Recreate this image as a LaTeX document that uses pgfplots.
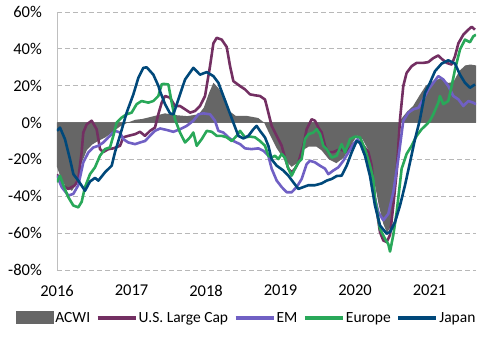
\documentclass[border=0pt]{standalone}
\usepackage{pgfplots}
\pgfplotsset{compat=1.18}
\usepackage{fontspec}
\setmainfont{Carlito}
\definecolor{acwi}{RGB}{102,102,102}
\definecolor{uslc}{RGB}{115,47,98}
\definecolor{em}{RGB}{112,96,196}
\definecolor{eur}{RGB}{41,168,89}
\definecolor{jpn}{RGB}{0,72,122}
\begin{document}
\begin{tikzpicture}
\begin{axis}[
  at={(0,0)}, anchor=south west,
  scale only axis, width=419pt, height=258pt,
  xmin=2016, xmax=2021.624, ymin=-80, ymax=60,
  axis lines*=left,
  x axis line style={draw=none},
  y axis line style={draw=black!25, line width=0.9pt},
  xtick={2016,2017,2018,2019,2020,2021},
  xticklabels={2016,2017,2018,2019,2020,2021},
  ytick={-80,-60,-40,-20,0,20,40,60},
  yticklabels={-80\%,-60\%,-40\%,-20\%,0\%,20\%,40\%,60\%},
  major tick length=0pt,
  tick label style={font=\fontsize{16.5}{18}\selectfont},
  xticklabel style={anchor=north, inner sep=0pt, yshift=-15pt},
  yticklabel style={anchor=east, inner sep=0pt, xshift=-15pt},
  ymajorgrids,
  major grid style={draw=black!28, line width=0.9pt, dash pattern=on 5pt off 3pt},
  extra y ticks={0},
  extra y tick labels={},
  extra y tick style={grid=major, major grid style={solid, draw=black!55, line width=1.2pt}},
  legend style={at={(0.452,-0.186)}, anchor=center, draw=none, fill=none,
    font=\fontsize{15.5}{17}\selectfont, nodes={inner sep=1.2pt},
    /tikz/every even column/.append style={column sep=4.5pt}},
  legend columns=-1,
  legend image code/.code={\draw[#1, line cap=butt, line width=3.6pt] (0pt,0pt) -- (38pt,0pt);},
  every axis plot/.append style={line join=round},
]
\addplot[fill=acwi, draw=none,
  legend image code/.code={\fill[acwi] (0pt,-6.5pt) rectangle (38pt,6.5pt);}]
  coordinates {(2016.0,-24) (2016.05,-30) (2016.12,-35) (2016.2,-37) (2016.27,-33) (2016.33,-22) (2016.4,-15) (2016.47,-12) (2016.55,-10) (2016.65,-8) (2016.75,-5) (2016.85,-2) (2016.95,0) (2017.05,1.5) (2017.15,2) (2017.3,3.5) (2017.45,5) (2017.6,4) (2017.75,3.5) (2017.9,4.5) (2017.97,8) (2018.04,16) (2018.1,21.6) (2018.16,19) (2018.22,16) (2018.27,12) (2018.32,6) (2018.4,3.6) (2018.55,3.6) (2018.7,2.5) (2018.78,0) (2018.85,-6) (2018.95,-14) (2019.05,-20) (2019.15,-24) (2019.22,-22) (2019.3,-15) (2019.38,-13) (2019.48,-13) (2019.55,-15) (2019.65,-20) (2019.75,-22) (2019.85,-19) (2019.95,-12) (2020.03,-7) (2020.1,-9) (2020.18,-15) (2020.25,-30) (2020.32,-45) (2020.38,-55) (2020.43,-60) (2020.48,-56) (2020.53,-40) (2020.58,-18) (2020.62,2) (2020.7,6) (2020.78,9) (2020.87,15) (2020.95,20) (2021.05,22.5) (2021.15,24) (2021.25,21.5) (2021.32,22) (2021.4,28) (2021.48,31) (2021.55,31.5) (2021.624,31)} \closedcycle;
\addlegendentry{ACWI}
\addplot[uslc, line width=2.6pt] coordinates {(2016.0,-28) (2016.063,-34) (2016.152,-36) (2016.242,-34) (2016.286,-30.6) (2016.331,-16) (2016.353,-5.4) (2016.398,-1) (2016.465,1) (2016.532,-3.6) (2016.555,-9) (2016.577,-14.4) (2016.622,-16) (2016.689,-14.4) (2016.756,-14) (2016.846,-12.6) (2016.89,-8) (2016.957,-7.2) (2017.047,-6.3) (2017.114,-5) (2017.181,-7.2) (2017.248,-4.5) (2017.315,-2.7) (2017.36,4.5) (2017.405,10.8) (2017.45,14.4) (2017.517,13.5) (2017.584,9) (2017.651,9) (2017.719,7.2) (2017.786,5.4) (2017.853,6.3) (2017.92,9) (2017.987,14.4) (2018.054,30.6) (2018.099,43) (2018.144,46) (2018.211,45) (2018.278,41) (2018.323,30.6) (2018.367,22.5) (2018.457,19.8) (2018.524,18) (2018.591,15.3) (2018.658,14.8) (2018.725,14.4) (2018.792,12.5) (2018.837,5.4) (2018.881,-1.8) (2018.949,-7.2) (2019.016,-12.6) (2019.06,-19) (2019.105,-25) (2019.15,-27) (2019.195,-25) (2019.24,-21.6) (2019.306,-12.6) (2019.351,-3.6) (2019.418,1.8) (2019.463,1) (2019.508,-2.7) (2019.553,-5.4) (2019.597,-12.6) (2019.642,-16) (2019.709,-16) (2019.799,-14.4) (2019.888,-16) (2019.978,-11.7) (2020.045,-10) (2020.112,-12.6) (2020.179,-16) (2020.224,-23.4) (2020.268,-41) (2020.335,-59.4) (2020.38,-64) (2020.425,-64.8) (2020.47,-61) (2020.514,-45) (2020.559,-27) (2020.604,1.8) (2020.648,19.8) (2020.693,27) (2020.76,30.6) (2020.827,32.4) (2020.917,32.4) (2020.984,32.8) (2021.051,35) (2021.118,36.4) (2021.163,34.6) (2021.23,32.4) (2021.297,31.5) (2021.342,36) (2021.387,43) (2021.454,47.7) (2021.521,50.4) (2021.566,52) (2021.61,50.4)};
\addlegendentry{U.S. Large Cap}
\addplot[em, line width=2.6pt] coordinates {(2016.0,-28.8) (2016.063,-35) (2016.152,-39.6) (2016.219,-38.7) (2016.286,-34) (2016.353,-21.6) (2016.421,-16.2) (2016.488,-13.5) (2016.555,-12.6) (2016.622,-10.8) (2016.689,-8) (2016.779,-4.5) (2016.846,-5.4) (2016.89,-9) (2016.957,-10.8) (2017.047,-11.7) (2017.114,-10.8) (2017.181,-10) (2017.248,-7.2) (2017.315,-4.5) (2017.383,-3.2) (2017.472,-4) (2017.562,-5) (2017.651,-3.6) (2017.741,-1.8) (2017.83,1) (2017.898,4.5) (2017.965,5) (2018.054,4.5) (2018.121,1) (2018.166,-4.5) (2018.233,-5.4) (2018.3,-8) (2018.367,-10) (2018.457,-11.7) (2018.524,-14) (2018.613,-14.4) (2018.703,-14) (2018.77,-15.3) (2018.837,-18) (2018.881,-25) (2018.949,-31.5) (2019.016,-35) (2019.083,-37.8) (2019.15,-37.8) (2019.217,-35) (2019.284,-30.6) (2019.351,-22.5) (2019.396,-20.7) (2019.463,-21.6) (2019.53,-23.4) (2019.597,-25) (2019.642,-28) (2019.709,-26) (2019.776,-24.3) (2019.844,-20.7) (2019.911,-16.2) (2019.978,-11.7) (2020.036,-9) (2020.09,-12.6) (2020.157,-19.8) (2020.224,-28.8) (2020.246,-37.8) (2020.313,-48.6) (2020.38,-53) (2020.447,-49.5) (2020.514,-37.8) (2020.581,-19.8) (2020.648,1) (2020.716,5.4) (2020.783,7.2) (2020.85,8) (2020.917,12.6) (2020.984,18) (2021.051,21.6) (2021.118,25.2) (2021.185,23.4) (2021.252,19.8) (2021.32,14.4) (2021.387,12.6) (2021.454,9) (2021.521,11.7) (2021.588,10.8) (2021.624,9.9)};
\addlegendentry{EM}
\addplot[eur, line width=2.6pt] coordinates {(2016.0,-32.4) (2016.04,-28.8) (2016.085,-34) (2016.152,-40.5) (2016.219,-45) (2016.286,-46) (2016.331,-43) (2016.376,-35) (2016.443,-28) (2016.51,-24.3) (2016.577,-18) (2016.644,-14.4) (2016.711,-13.5) (2016.756,-7.2) (2016.801,0) (2016.868,2.7) (2016.935,4.5) (2017.002,5.4) (2017.069,10) (2017.136,11.7) (2017.226,10.8) (2017.293,11.7) (2017.36,14.4) (2017.405,20.7) (2017.428,21) (2017.495,20.7) (2017.54,10.8) (2017.584,1.8) (2017.651,-5.4) (2017.719,-10.8) (2017.786,-8) (2017.83,-5.4) (2017.875,-12.6) (2017.942,-9) (2018.01,-4.5) (2018.077,-5) (2018.144,-7.2) (2018.211,-7.2) (2018.278,-8) (2018.345,-10) (2018.412,-7.2) (2018.457,-4.5) (2018.524,-8) (2018.591,-7.6) (2018.658,-8) (2018.725,-10) (2018.792,-12.6) (2018.837,-18) (2018.881,-19) (2018.926,-18) (2018.971,-19.8) (2019.016,-17) (2019.06,-19) (2019.105,-25) (2019.15,-28.8) (2019.195,-25) (2019.24,-21.6) (2019.284,-19.8) (2019.329,-9) (2019.374,-6.3) (2019.441,-5.4) (2019.486,-3.6) (2019.53,-6.3) (2019.575,-12.6) (2019.62,-14.4) (2019.687,-19) (2019.754,-18) (2019.821,-11.7) (2019.866,-16.2) (2019.933,-9) (2020.0,-7.6) (2020.067,-8) (2020.134,-14.4) (2020.201,-23.4) (2020.246,-30.6) (2020.268,-41.4) (2020.335,-57.6) (2020.402,-63) (2020.447,-66) (2020.47,-70) (2020.514,-61) (2020.559,-48.6) (2020.626,-25) (2020.693,-17) (2020.76,-12.6) (2020.827,-7.2) (2020.894,-3.6) (2020.962,-1) (2021.006,1) (2021.051,4.5) (2021.118,10.8) (2021.14,14.4) (2021.185,10) (2021.252,11.7) (2021.297,19.8) (2021.342,28.8) (2021.409,39.6) (2021.476,45) (2021.543,43.6) (2021.588,46.8) (2021.624,47.7)};
\addlegendentry{Europe}
\addplot[jpn, line width=2.6pt] coordinates {(2016.0,-4.5) (2016.04,-2.7) (2016.107,-9) (2016.175,-20) (2016.22,-28) (2016.286,-31.5) (2016.376,-37) (2016.443,-32) (2016.51,-30) (2016.555,-31.5) (2016.644,-27) (2016.734,-23.4) (2016.779,-16) (2016.846,-7) (2016.935,5.4) (2017.025,15.3) (2017.092,24.3) (2017.159,29.7) (2017.204,30) (2017.293,26) (2017.36,20) (2017.383,17) (2017.45,10) (2017.517,5) (2017.562,4.5) (2017.629,12.6) (2017.719,23.4) (2017.83,29.7) (2017.92,26) (2018.01,27.4) (2018.099,25.2) (2018.166,21.6) (2018.233,14.4) (2018.3,7.2) (2018.367,0) (2018.434,-7.2) (2018.502,-8.6) (2018.569,-7.2) (2018.636,-3.6) (2018.68,-1.8) (2018.725,-4.5) (2018.792,-8.1) (2018.837,-12.6) (2018.881,-20) (2018.949,-23.4) (2019.038,-26) (2019.105,-28.8) (2019.172,-32.4) (2019.24,-36) (2019.306,-35) (2019.374,-34) (2019.463,-34) (2019.553,-33) (2019.62,-31.5) (2019.687,-30.6) (2019.754,-29) (2019.821,-28.8) (2019.888,-23.4) (2019.955,-16.2) (2020.022,-10) (2020.067,-11) (2020.134,-18) (2020.201,-29) (2020.268,-45) (2020.335,-55.8) (2020.425,-60.3) (2020.47,-59.4) (2020.537,-54) (2020.604,-45) (2020.671,-34) (2020.738,-21.6) (2020.805,-9) (2020.872,1.8) (2020.939,16.2) (2021.006,21.6) (2021.074,27.9) (2021.163,32) (2021.252,33.8) (2021.342,32) (2021.409,26) (2021.476,21.6) (2021.543,18.9) (2021.61,20.7)};
\addlegendentry{Japan}
\end{axis}
\pgfresetboundingbox
\path[use as bounding box] (-57pt,-73pt) rectangle (434pt,270pt);
\end{tikzpicture}
\end{document}
